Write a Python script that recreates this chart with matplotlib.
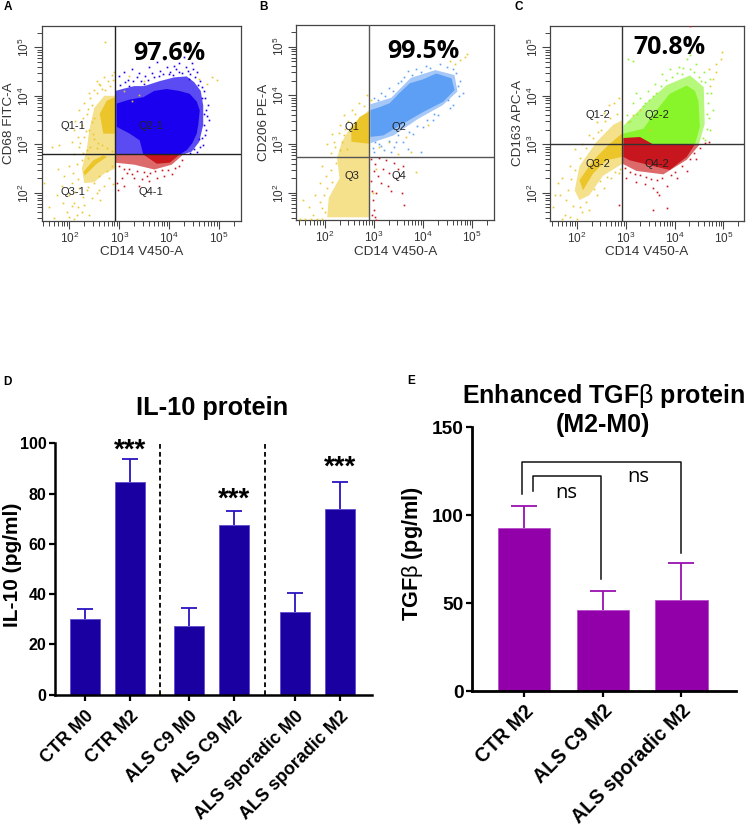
import numpy as np
import matplotlib
matplotlib.use("Agg")
import matplotlib.pyplot as plt
from matplotlib.ticker import FixedLocator, NullFormatter

plt.rcParams["font.family"] = "Liberation Sans"
plt.rcParams["mathtext.fontset"] = "custom"
plt.rcParams["mathtext.rm"] = "Liberation Sans"

W, H = 747, 830

# --- flow panels: everything is log10(intensity) ---
# polygons outline the solid / speckled regions, dots are the stray events
A_BLUE_CORE = [(2.95, 3.84), (3.20, 3.92), (3.48, 3.97), (3.70, 4.10), (3.95, 4.14), (4.20, 4.10), (4.41, 4.04),
               (4.55, 3.88), (4.61, 3.70), (4.58, 3.40), (4.55, 3.22), (4.46, 3.02), (4.35, 2.88), (4.21, 2.79),
               (3.48, 2.79), (3.41, 3.08), (3.21, 3.22), (2.95, 3.36)]
A_BLUE_TINT = [(2.92, 2.79), (2.92, 4.10), (3.10, 4.15), (3.30, 4.20), (3.50, 4.20), (3.80, 4.30), (4.10, 4.38),
               (4.35, 4.40), (4.50, 4.28), (4.63, 4.10), (4.68, 3.80), (4.68, 3.40), (4.60, 3.05), (4.45, 2.85),
               (4.28, 2.79)]
A_YELLOW_CORE = [[(2.91, 3.97), (2.91, 3.22), (2.68, 3.22), (2.61, 3.63), (2.75, 3.90)],
                 [(2.75, 2.74), (2.55, 2.60), (2.31, 2.36), (2.28, 2.43), (2.48, 2.67), (2.68, 2.77)]]
A_YELLOW_TINT = [(2.92, 4.00), (2.92, 2.50), (2.70, 2.40), (2.50, 2.22), (2.30, 2.20), (2.25, 2.50), (2.35, 2.90),
                 (2.40, 3.30), (2.50, 3.75), (2.70, 4.00)]
A_RED_CORE = [(3.48, 2.79), (4.21, 2.79), (4.01, 2.62), (3.75, 2.60)]
A_RED_TINT = [(2.92, 2.79), (4.28, 2.79), (4.05, 2.58), (3.70, 2.48), (3.30, 2.58), (2.92, 2.62)]
A_YELLOW_DOTS = [(2.72, 5.10), (2.90, 4.50), (2.85, 4.42), (2.70, 4.38), (2.55, 4.30), (2.60, 4.25), (2.78, 4.30),
                 (2.40, 4.05), (2.50, 4.12), (2.65, 4.15), (2.30, 3.85), (2.20, 3.70), (2.35, 3.62), (2.45, 3.80),
                 (2.50, 3.55), (2.10, 3.30), (2.25, 3.40), (2.30, 3.15), (2.40, 3.30), (2.50, 3.10), (2.05, 3.05),
                 (1.65, 2.95), (1.80, 2.98), (2.20, 2.95), (2.35, 2.88), (2.55, 2.92), (2.45, 3.45), (2.15, 2.60),
                 (2.00, 2.55), (1.90, 2.35), (1.85, 2.15), (2.05, 2.20), (2.20, 2.10), (2.35, 2.05), (2.50, 2.20),
                 (2.60, 2.35), (2.75, 2.45), (2.85, 2.55), (2.10, 1.80), (2.30, 1.75), (2.45, 1.90), (1.95, 1.60),
                 (2.00, 1.50), (2.10, 1.47), (2.15, 1.55), (1.70, 1.48), (1.60, 1.70), (2.25, 1.60), (2.40, 1.55),
                 (3.20, 4.40), (3.50, 4.30), (4.60, 4.35), (4.85, 4.38), (4.95, 4.33), (4.75, 4.25), (3.10, 4.10),
                 (3.25, 3.90), (3.40, 4.02), (1.50, 2.20), (1.75, 1.95), (2.00, 1.95), (2.60, 2.05), (2.70, 2.15),
                 (2.28, 3.55), (2.38, 3.72), (2.42, 3.95), (2.55, 4.05), (2.62, 4.22), (2.72, 4.12), (2.82, 4.20),
                 (2.88, 4.32), (2.33, 3.28), (2.18, 3.15), (2.12, 3.48), (2.22, 3.02), (2.28, 2.82), (2.42, 2.95),
                 (2.48, 3.22), (2.58, 3.02), (2.65, 2.98), (2.75, 2.92), (2.85, 2.86), (2.10, 2.80), (2.25, 2.68),
                 (2.38, 2.72), (2.08, 2.40), (2.18, 2.28), (2.12, 2.02), (2.28, 1.92), (2.38, 2.12), (2.55, 2.00),
                 (2.80, 2.30), (2.88, 2.18), (2.62, 1.85), (2.05, 1.72), (2.18, 1.70), (1.88, 1.78), (1.78, 2.50)]
A_BLUE_DOTS = [(3.00, 4.40), (3.10, 4.50), (3.25, 4.55), (3.40, 4.48), (3.60, 4.60), (3.75, 4.70), (3.90, 4.75),
               (4.10, 4.62), (4.30, 4.80), (4.45, 4.68), (4.55, 4.50), (4.62, 4.30), (4.70, 4.10), (4.78, 3.80),
               (4.80, 3.50), (4.72, 3.20), (4.68, 2.98), (4.50, 2.90), (3.20, 4.20), (3.50, 4.25), (3.80, 4.40),
               (4.00, 4.45), (4.20, 4.50), (4.40, 4.35), (4.65, 3.95), (4.70, 3.40), (4.60, 3.10),
               (3.02, 4.22), (3.12, 4.28), (3.18, 4.33), (3.28, 4.30), (3.36, 4.38), (3.44, 4.31), (3.52, 4.41),
               (3.58, 4.33), (3.66, 4.48), (3.70, 4.38), (3.82, 4.52), (3.88, 4.44), (3.95, 4.60), (4.02, 4.50),
               (4.08, 4.42), (4.14, 4.56), (4.20, 4.68), (4.26, 4.47), (4.33, 4.60), (4.38, 4.52), (4.42, 4.44),
               (4.48, 4.56), (4.52, 4.38), (4.58, 4.22), (4.66, 4.18), (4.72, 3.95), (4.74, 3.70), (4.75, 3.58),
               (4.70, 3.62), (4.73, 3.30), (4.66, 3.12), (4.62, 2.95), (4.55, 2.85), (4.42, 2.82)]
A_RED_DOTS = [(3.05, 2.30), (3.10, 2.15), (2.95, 2.20), (3.15, 2.40), (3.30, 2.30), (3.45, 2.28), (3.60, 2.25),
              (3.75, 2.30), (3.90, 2.35), (4.05, 2.38), (4.20, 2.55), (3.40, 2.15), (2.98, 2.05), (3.20, 2.50),
              (3.00, 2.55), (3.10, 2.50), (3.35, 2.45), (3.50, 2.42), (3.62, 2.40), (3.72, 2.45), (3.85, 2.46),
              (3.98, 2.48), (4.12, 2.52), (4.25, 2.68), (3.55, 2.35), (3.25, 2.38)]

B_BLUE_CORE = [(2.93, 3.70), (3.12, 3.76), (3.32, 3.84), (3.52, 4.05), (3.73, 4.25), (4.00, 4.33), (4.27, 4.45),
               (4.58, 4.35), (4.64, 4.11), (4.41, 3.87), (4.00, 3.66), (3.59, 3.42), (3.19, 3.18), (2.93, 3.15)]
B_BLUE_TINT = [(2.93, 3.82), (3.35, 3.95), (3.75, 4.36), (4.25, 4.52), (4.64, 4.42), (4.70, 4.08), (4.40, 3.80),
               (3.90, 3.52), (3.40, 3.18), (2.93, 3.02)]
B_YELLOW_CORE = [[(2.90, 3.66), (2.90, 3.01), (2.54, 3.05), (2.54, 3.29), (2.71, 3.56)]]
B_YELLOW_TINT = [(2.90, 3.70), (2.90, 1.50), (2.05, 1.50), (2.08, 1.90), (2.30, 2.30), (2.25, 2.72), (2.35, 3.05),
                 (2.55, 3.40)]
B_YELLOW_DOTS = [(2.85, 4.00), (2.70, 3.85), (2.55, 3.70), (2.40, 3.60), (2.30, 3.40), (2.15, 3.20), (2.05, 3.00),
                 (2.20, 2.95), (2.35, 3.05), (2.45, 2.90), (1.95, 2.55), (1.90, 2.20), (1.80, 1.95), (1.55, 1.85),
                 (1.75, 1.55), (1.60, 1.46), (1.85, 1.46), (1.95, 1.70), (3.10, 2.95), (3.30, 3.05), (3.50, 2.80),
                 (3.75, 2.85), (3.85, 2.42), (4.65, 4.65), (4.75, 4.72), (4.85, 4.78), (4.90, 4.85), (4.55, 4.70),
                 (3.65, 3.15), (4.10, 3.40), (2.95, 3.90), (3.05, 2.50), (2.98, 2.00),
                 (2.80, 3.78), (2.62, 3.62), (2.48, 3.48), (2.42, 3.32), (2.28, 3.22), (2.18, 3.05), (2.30, 2.88),
                 (2.12, 2.82), (2.22, 2.62), (2.12, 2.48), (2.02, 2.35), (2.15, 2.22), (2.05, 2.10), (1.98, 1.95),
                 (1.90, 1.82), (2.00, 1.60), (1.68, 1.72), (1.50, 1.46), (1.72, 1.46), (1.95, 1.46), (2.40, 3.18)]
B_BLUE_DOTS = [(3.00, 3.95), (3.15, 4.05), (3.30, 4.15), (3.50, 4.25), (3.70, 4.50), (3.85, 4.55), (4.05, 4.60),
               (4.35, 4.65), (4.60, 4.55), (4.75, 4.30), (4.82, 4.05), (4.60, 3.80), (4.30, 3.60), (4.00, 3.35),
               (3.80, 3.20), (3.60, 3.05), (3.40, 2.95), (3.20, 2.88), (3.00, 2.85), (3.35, 2.85), (3.70, 2.90),
               (3.95, 2.85), (3.10, 3.00), (4.50, 3.90), (4.20, 3.50),
               (3.08, 3.90), (3.22, 3.98), (3.38, 4.10), (3.55, 4.30), (3.62, 4.38), (3.78, 4.42), (3.95, 4.48),
               (4.15, 4.56), (4.48, 4.58), (4.68, 4.46), (4.72, 4.20), (4.74, 3.98), (4.55, 3.74), (4.22, 3.62),
               (4.08, 3.50), (3.88, 3.38), (3.72, 3.25), (3.50, 3.18), (3.30, 3.06), (3.15, 2.96), (3.02, 3.05),
               (2.98, 2.92), (3.45, 3.05)]
B_RED_DOTS = [(2.95, 2.70), (3.02, 2.60), (3.10, 2.72), (3.25, 2.68), (3.40, 2.62), (3.50, 2.50), (3.60, 2.55),
              (3.00, 2.45), (3.08, 2.35), (3.18, 2.50), (3.30, 2.40), (3.45, 2.30), (2.95, 2.25), (3.15, 2.20),
              (3.28, 2.15), (2.97, 2.05), (3.05, 2.00), (3.35, 2.05), (3.58, 2.00), (3.62, 1.75), (2.98, 1.85),
              (3.00, 1.65), (3.02, 1.50), (3.05, 1.45), (2.96, 1.55)]

C_GREEN_CORE = [(2.95, 3.00), (2.95, 3.22), (3.36, 3.32), (3.63, 3.70), (3.90, 4.04), (4.25, 4.21), (4.42, 4.10),
                (4.49, 3.90), (4.52, 3.36), (4.42, 3.00)]
C_GREEN_TINT = [(2.95, 3.00), (2.95, 3.38), (3.42, 3.85), (3.84, 4.22), (4.32, 4.42), (4.60, 4.18), (4.62, 3.42),
                (4.50, 3.00)]
C_YELLOW_CORE = [[(2.92, 3.22), (2.92, 2.74), (2.60, 2.67), (2.33, 2.40), (2.12, 2.05), (2.05, 2.26), (2.33, 2.67),
                  (2.67, 3.01)]]
C_YELLOW_TINT = [(2.93, 3.50), (2.93, 2.60), (2.53, 2.35), (2.25, 1.95), (2.05, 1.85), (1.95, 2.05), (2.05, 2.55),
                 (2.40, 3.05), (2.74, 3.40)]
C_RED_CORE = [(2.95, 3.00), (4.42, 3.00), (4.25, 2.74), (3.90, 2.47), (3.49, 2.57), (3.08, 2.67), (2.95, 2.74)]
C_RED_TINT = [(2.93, 3.00), (4.52, 3.00), (4.25, 2.68), (3.77, 2.38), (3.22, 2.45), (2.93, 2.60)]
C_RED_STRIP = [(2.95, 3.00), (2.95, 3.13), (3.29, 3.15), (3.56, 3.00)]
C_YELLOW_DOTS = [(2.85, 3.95), (2.75, 3.85), (2.65, 3.80), (2.55, 3.65), (2.40, 3.45), (2.25, 3.20), (2.10, 3.00),
                 (1.95, 2.90), (1.85, 2.55), (1.70, 2.30), (1.60, 2.20), (1.55, 1.95), (1.50, 1.70), (1.75, 1.55),
                 (1.85, 1.50), (2.00, 1.47), (2.10, 1.60), (2.25, 1.65), (2.40, 1.95), (2.55, 2.10), (2.70, 2.30),
                 (2.85, 2.40), (3.05, 3.45), (3.15, 3.60), (3.30, 3.70), (3.50, 3.30), (4.70, 4.55), (4.85, 4.65),
                 (4.95, 4.75), (4.98, 4.90), (4.80, 4.35), (4.72, 4.20), (4.85, 4.50), (1.70, 1.47), (1.65, 1.95),
                 (2.82, 3.62), (2.68, 3.55), (2.50, 3.30), (2.32, 3.12), (2.18, 2.92), (2.05, 2.72), (1.95, 2.48),
                 (1.88, 2.28), (1.82, 2.05), (1.78, 1.85), (1.92, 1.72), (2.05, 1.70), (2.18, 1.82), (2.35, 2.08),
                 (2.48, 2.25), (2.62, 2.32), (2.78, 2.42), (2.88, 2.50), (2.58, 3.48), (2.42, 3.25)]
C_GREEN_DOTS = [(3.02, 3.60), (3.15, 3.85), (3.30, 3.95), (3.45, 4.10), (3.60, 4.25), (3.75, 4.45), (3.90, 4.55),
                (4.10, 4.60), (4.25, 4.75), (4.32, 4.85), (4.45, 4.65), (4.60, 4.50), (4.72, 4.35), (4.75, 4.05),
                (4.78, 3.70), (4.72, 3.30), (4.62, 3.08), (3.20, 4.05), (3.05, 4.75), (3.15, 4.72), (4.15, 4.45),
                (4.55, 4.30), (4.70, 3.55), (3.55, 4.00), (3.40, 3.85),
                (3.08, 3.48), (3.22, 3.62), (3.35, 3.78), (3.48, 3.92), (3.62, 4.05), (3.72, 4.20), (3.82, 4.32),
                (3.95, 4.38), (4.05, 4.48), (4.18, 4.58), (4.32, 4.55), (4.40, 4.50), (4.50, 4.38), (4.62, 4.28),
                (4.66, 4.05), (4.68, 3.85), (4.66, 3.62), (4.66, 3.32), (4.58, 3.12)]
C_RED_DOTS = [(4.32, 5.44), (3.55, 1.65), (3.85, 1.68), (2.85, 1.75), (3.65, 2.02), (3.68, 1.95), (3.40, 2.18),
              (3.20, 2.22), (3.00, 2.30), (3.85, 2.15), (4.05, 2.30), (4.25, 2.45), (4.45, 2.70), (4.62, 3.02),
              (4.70, 3.04), (3.55, 2.10),
              (2.98, 2.52), (3.08, 2.42), (3.18, 2.38), (3.30, 2.36), (3.42, 2.32), (3.52, 2.28), (3.65, 2.26),
              (3.75, 2.30), (3.92, 2.36), (4.02, 2.42), (4.15, 2.55), (4.32, 2.70), (4.40, 2.82), (4.52, 2.92)]

PCT = ["97.6%", "99.5%", "70.8%"]
Y_CHANNELS = ["CD68 FITC-A", "CD206 PE-A", "CD163 APC-A"]
X_CHANNEL = "CD14 V450-A"
QUADS_A = ["Q1-1", "Q2-1", "Q3-1", "Q4-1"]
QUADS_B = ["Q1", "Q2", "Q3", "Q4"]
QUADS_C = ["Q1-2", "Q2-2", "Q3-2", "Q4-2"]

# --- bar panels ---
IL10_LABELS = ["CTR M0", "CTR M2", "ALS C9 M0", "ALS C9 M2", "ALS sporadic M0", "ALS sporadic M2"]
IL10_VALUES = [30, 84.5, 27.5, 67.5, 33, 74]
IL10_ERR = [4, 9.3, 7, 5.7, 7.5, 10.5]
IL10_POS = [0, 1, 2.33, 3.33, 4.67, 5.67]
IL10_STARS = [91.9, 72.5, 85.0]

TGFB_LABELS = ["CTR M2", "ALS C9 M2", "ALS sporadic M2"]
TGFB_VALUES = [93, 46, 52]
TGFB_ERR = [12, 11, 21]


def axes_px(l, t, r, b):
    return fig.add_axes([l / W, 1 - b / H, (r - l) / W, (b - t) / H])


def flow_panel(rect, xlim, ylim, gate, ylabel, pct, pct_xy, quads, quad_xy, tints, cores, dots, line_color):
    ax = axes_px(*rect)
    ax.set_xscale("log")
    ax.set_yscale("log")
    ax.set_xlim(10 ** xlim[0], 10 ** xlim[1])
    ax.set_ylim(10 ** ylim[0], 10 ** ylim[1])

    for pts, color in tints:
        xy = 10 ** np.array(pts)
        ax.fill(xy[:, 0], xy[:, 1], color=color, lw=0, zorder=1)
    for pts, color in cores:
        xy = 10 ** np.array(pts)
        ax.fill(xy[:, 0], xy[:, 1], color=color, lw=0, zorder=2)
    for pts, color in dots:
        xy = 10 ** np.array(pts)
        ax.plot(xy[:, 0], xy[:, 1], ls="none", marker="s", ms=1.2, mew=0, color=color, zorder=3)

    ax.axvline(10 ** gate[0], color=line_color, lw=1.0, zorder=4)
    ax.axhline(10 ** gate[1], color=line_color, lw=1.0, zorder=4)

    for spine in ax.spines.values():
        spine.set_color("#444444")
        spine.set_linewidth(0.9)
    decades = [100, 1000, 10000, 100000]
    labels = ["$\\mathregular{10^{%d}}$" % p for p in (2, 3, 4, 5)]
    minors = [m * 10 ** d for d in range(1, 6) for m in range(2, 10)]
    for axis in (ax.xaxis, ax.yaxis):
        axis.set_major_locator(FixedLocator(decades))
        axis.set_minor_locator(FixedLocator(minors))
        axis.set_minor_formatter(NullFormatter())
    ax.set_xticklabels(labels, fontsize=8.5, color="#333333")
    ax.set_yticklabels(labels, fontsize=8.5, color="#333333", rotation=90, va="center")
    ax.tick_params(which="major", length=6, width=0.8, color="#444444", pad=1)
    ax.tick_params(which="minor", length=3.6, width=0.7, color="#444444")
    ax.set_xlabel(X_CHANNEL, fontsize=9.7, color="#333333", labelpad=0.5)
    ax.set_ylabel(ylabel, fontsize=9.7, color="#333333", labelpad=1)

    ax.text(10 ** pct_xy[0], 10 ** pct_xy[1], pct, fontsize=18, fontweight="bold", family="Open Sans",
            ha="center", va="center", color="black", zorder=6)
    for name, (qx, qy) in zip(quads, quad_xy):
        ax.text(10 ** qx, 10 ** qy, name, fontsize=8, ha="center", va="center", color="#222222", zorder=5)


def upper_error(ax, xs, values, errs, color, cap):
    tops = [v + e for v, e in zip(values, errs)]
    ax.vlines(xs, values, tops, color=color, lw=1.3, zorder=1)
    ax.plot(xs, tops, ls="none", marker="_", ms=cap, mew=1.3, color=color, zorder=1)


fig = plt.figure(figsize=(W / 100, H / 100), dpi=100)

YELLOW, YELLOW_T = "#EBC52A", "#F5E08C"
BLUE, BLUE_T = "#1A00EE", "#5A4CF2"
LBLUE, LBLUE_T = "#5C9FF4", "#A5C8F8"
GREEN, GREEN_T = "#88F52A", "#B5F87C"
RED, RED_T = "#C8161E", "#DC6A6A"

flow_panel((41.7, 25.7, 240.7, 220.7), (1.447, 5.43), (1.425, 5.445), (2.92, 2.79), Y_CHANNELS[0],
           PCT[0], (4.01, 4.88), QUADS_A,
           [(2.07, 3.38), (3.63, 3.38), (2.07, 2.02), (3.63, 2.02)],
           [(A_YELLOW_TINT, YELLOW_T), (A_BLUE_TINT, BLUE_T), (A_RED_TINT, RED_T)],
           [(A_YELLOW_CORE[0], YELLOW), (A_YELLOW_CORE[1], YELLOW), (A_BLUE_CORE, BLUE), (A_RED_CORE, RED)],
           [(A_YELLOW_DOTS, YELLOW), (A_BLUE_DOTS, BLUE), (A_RED_DOTS, RED)], "#222222")

flow_panel((296.3, 25, 494.3, 220), (1.42, 5.45), (1.445, 5.445), (2.90, 2.74), Y_CHANNELS[1],
           PCT[1], (4.00, 4.90), QUADS_B,
           [(2.56, 3.35), (3.51, 3.35), (2.56, 2.34), (3.51, 2.34)],
           [(B_YELLOW_TINT, YELLOW_T), (B_BLUE_TINT, LBLUE_T)],
           [(B_YELLOW_CORE[0], YELLOW), (B_BLUE_CORE, LBLUE)],
           [(B_YELLOW_DOTS, YELLOW), (B_BLUE_DOTS, LBLUE), (B_RED_DOTS, RED)], "#555555")

flow_panel((550.3, 25.7, 743.7, 220.7), (1.45, 5.42), (1.425, 5.445), (2.93, 3.0), Y_CHANNELS[2],
           PCT[2], (3.90, 4.99), QUADS_C,
           [(2.43, 3.60), (3.64, 3.60), (2.43, 2.60), (3.64, 2.60)],
           [(C_YELLOW_TINT, YELLOW_T), (C_GREEN_TINT, GREEN_T), (C_RED_TINT, RED_T)],
           [(C_YELLOW_CORE[0], YELLOW), (C_GREEN_CORE, GREEN), (C_RED_CORE, RED), (C_RED_STRIP, RED)],
           [(C_YELLOW_DOTS, YELLOW), (C_GREEN_DOTS, GREEN), (C_RED_DOTS, RED)], "#333333")

# IL-10 bars
ax = axes_px(55, 443.3, 372, 694.7)
ax.bar(IL10_POS, IL10_VALUES, width=0.667, color="#1A00A0", edgecolor="#5A50D0", linewidth=0.6, zorder=2)
upper_error(ax, IL10_POS, IL10_VALUES, IL10_ERR, "#2A14C0", 11)
ax.set_xlim(-0.66, 6.39)
ax.set_ylim(0, 100)
ax.set_yticks(range(0, 101, 20))
ax.set_xticks(IL10_POS)
ax.set_xticklabels(IL10_LABELS, rotation=45, ha="right", rotation_mode="anchor", fontsize=12.9, fontweight="bold")
ax.tick_params(axis="y", labelsize=11.5, width=1.6, length=4, pad=2)
for t in ax.get_yticklabels():
    t.set_fontweight("bold")
ax.tick_params(axis="x", width=1.6, length=4.5, pad=5)
ax.set_ylabel("IL-10 (pg/ml)", fontsize=15, fontweight="bold")
ax.yaxis.set_label_coords(-0.105, 0.516)
for side in ("top", "right"):
    ax.spines[side].set_visible(False)
for side in ("left", "bottom"):
    ax.spines[side].set_linewidth(1.8)
for x in (1.67, 4.0):
    ax.plot([x, x], [0, 100], color="black", lw=1.3, ls=(0, (2.6, 1.8)), zorder=3)
for x, y in zip([IL10_POS[1], IL10_POS[3], IL10_POS[5]], IL10_STARS):
    ax.text(x, y, "***", fontsize=20, fontweight="bold", ha="center", va="bottom", clip_on=False)
fig.text(212 / W, 1 - 408 / H, "IL-10 protein", fontsize=18.3, fontweight="bold", ha="center", va="center")

# TGFb bars
ax = axes_px(472.3, 427.3, 735.7, 691)
ax.bar(range(3), TGFB_VALUES, width=0.665, color="#9100A8", edgecolor="#B84CCB", linewidth=0.6, zorder=2)
upper_error(ax, range(3), TGFB_VALUES, TGFB_ERR, "#9A10B0", 19)
ax.set_xlim(-0.66, 2.69)
ax.set_ylim(0, 150)
ax.set_yticks([0, 50, 100, 150])
ax.set_xticks(range(3))
ax.set_xticklabels(TGFB_LABELS, rotation=45, ha="right", rotation_mode="anchor", fontsize=14.1, fontweight="bold")
ax.tick_params(axis="y", labelsize=13.8, width=1.6, length=4, pad=2)
for t in ax.get_yticklabels():
    t.set_fontweight("bold")
ax.tick_params(axis="x", width=1.6, length=4.5, pad=3)
ax.set_ylabel("TGF$\\mathrm{\\beta}$ (pg/ml)", fontsize=15.6, fontweight="bold")
ax.yaxis.set_label_coords(-0.18, 0.52)
for side in ("top", "right"):
    ax.spines[side].set_visible(False)
for side in ("left", "bottom"):
    ax.spines[side].set_linewidth(2.0)
ax.plot([-0.03, -0.03, 2, 2], [112, 130, 130, 78.4], color="#111111", lw=1.1, zorder=3)
ax.plot([0.114, 0.114, 0.98, 0.98], [113.5, 122.4, 122.4, 63.6], color="#111111", lw=1.1, zorder=3)
ax.text(0.54, 112.5, "ns", fontsize=14.5, family="Open Sans", ha="center", va="center")
ax.text(1.45, 121.5, "ns", fontsize=14.5, family="Open Sans", ha="center", va="center")
fig.text(603 / W, 1 - 396 / H, "Enhanced TGF$\\mathrm{\\beta}$ protein", fontsize=18, fontweight="bold",
         ha="center", va="center")
fig.text(603 / W, 1 - 425 / H, "(M2-M0)", fontsize=18, fontweight="bold", ha="center", va="center")

# panel letters
for letter, (x, y) in zip("ABCDE", [(8, 7), (263, 7), (519, 7), (7, 382), (411, 381)]):
    fig.text(x / W, 1 - y / H, letter, fontsize=8.5, fontweight="bold", ha="center", va="center")

fig.savefig("out.png", dpi=100)
